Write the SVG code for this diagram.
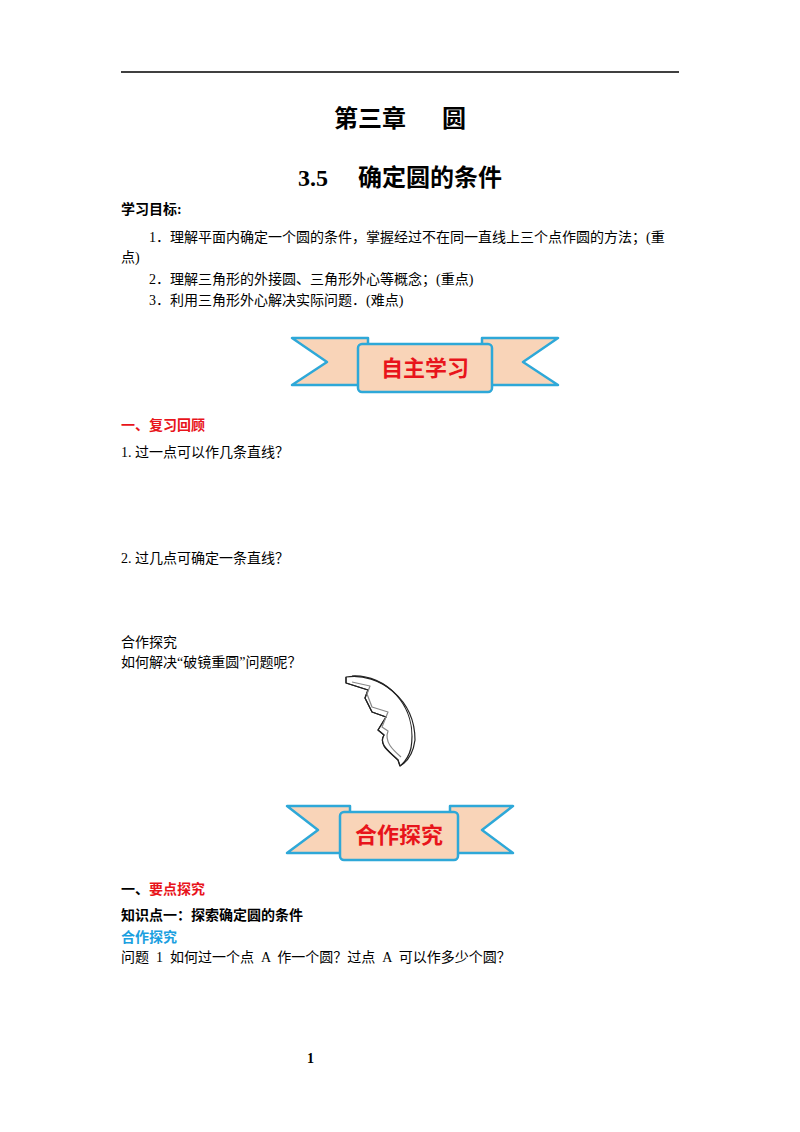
<svg xmlns="http://www.w3.org/2000/svg" width="800" height="1132" viewBox="0 0 800 1132">
<style>
.t{font-family:"Liberation Serif","Noto Sans CJK SC",serif;font-size:14px;fill:#000}
.b{font-weight:bold}
.h{font-family:"Liberation Serif","Noto Sans CJK SC",serif;font-weight:bold;font-size:24px}
.rib{fill:#f9d4b8;stroke:#2ea8d8;stroke-width:2.5;stroke-linejoin:round}
.bt{font-family:"Noto Sans CJK SC",sans-serif;font-weight:bold;font-size:22px;fill:#e8141b}
</style>
<rect width="800" height="1132" fill="#fff"/>
<line x1="121" y1="72" x2="679" y2="72" stroke="#000" stroke-width="1.5"/>
<text class="h" x="400" y="127" text-anchor="middle" xml:space="preserve">第三章      圆</text>
<text class="h" x="400" y="186" text-anchor="middle" xml:space="preserve">3.5     确定圆的条件</text>
<text class="t b" x="121" y="214" font-size="13">学习目标:</text>
<text class="t" x="149" y="242">1．理解平面内确定一个圆的条件，掌握经过不在同一直线上三个点作圆的方法；(重</text>
<text class="t" x="121" y="262">点)</text>
<text class="t" x="149" y="284">2．理解三角形的外接圆、三角形外心等概念；(重点)</text>
<text class="t" x="149" y="305">3．利用三角形外心解决实际问题．(难点)</text>
<g id="banner1">
<path class="rib" d="M292,338 L368,338 L368,385 L292,385 L327,362 Z"/>
<path class="rib" d="M558,338 L482,338 L482,385 L558,385 L523,362 Z"/>
<rect class="rib" x="358" y="344" width="134" height="48" rx="4"/>
<text class="bt" x="425" y="376" text-anchor="middle">自主学习</text>
</g>
<text class="t b" x="121" y="430" fill="#e8141b" style="fill:#e8141b">一、复习回顾</text>
<text class="t" x="121" y="457">1. 过一点可以作几条直线？</text>
<text class="t" x="121" y="563">2. 过几点可确定一条直线？</text>
<text class="t" x="121" y="647">合作探究</text>
<text class="t" x="121" y="667">如何解决“破镜重圆”问题呢？</text>
<g id="mirror" fill="#fff" stroke="#222" stroke-width="1.2" stroke-linejoin="round">
<path d="M346,677 C380,672 415,700 415,740 C413,755 407,762 400,766 L398,760 C390,752 378,745 384,735 L378,730 L386,717 L372,712 L365,698 L368,690 L346,683 Z" fill="#fff"/>
<path d="M346,677 L346,683 L368,690 L365,698 L372,712 L386,717 L378,730 L384,735 C378,745 390,752 398,760 L400,766" fill="none"/>
<path d="M352,682 L370,686 L367,694 L372,707 L388,712 L382,727 L388,731 C384,742 393,750 401,757" fill="none" stroke="#888"/>
<path d="M352,676 C385,674 418,705 411,748 C409,756 405,762 400,766" fill="none"/>
</g>
<g id="banner2">
<path class="rib" d="M287,806 L350,806 L350,853 L287,853 L318,830 Z"/>
<path class="rib" d="M513,806 L450,806 L450,853 L513,853 L482,830 Z"/>
<rect class="rib" x="340" y="812" width="118" height="48" rx="4"/>
<text class="bt" x="399" y="843" text-anchor="middle">合作探究</text>
</g>
<text class="t b" x="121" y="894" style="fill:#000">一、<tspan style="fill:#e8141b">要点探究</tspan></text>
<text class="t b" x="121" y="920">知识点一：探索确定圆的条件</text>
<text class="t b" x="121" y="942" style="fill:#1aa0e0">合作探究</text>
<text class="t" x="121" y="962" xml:space="preserve">问题  1  如何过一个点  A  作一个圆？过点  A  可以作多少个圆？</text>
<text class="t b" x="307" y="1063" font-size="12">1</text>
</svg>
